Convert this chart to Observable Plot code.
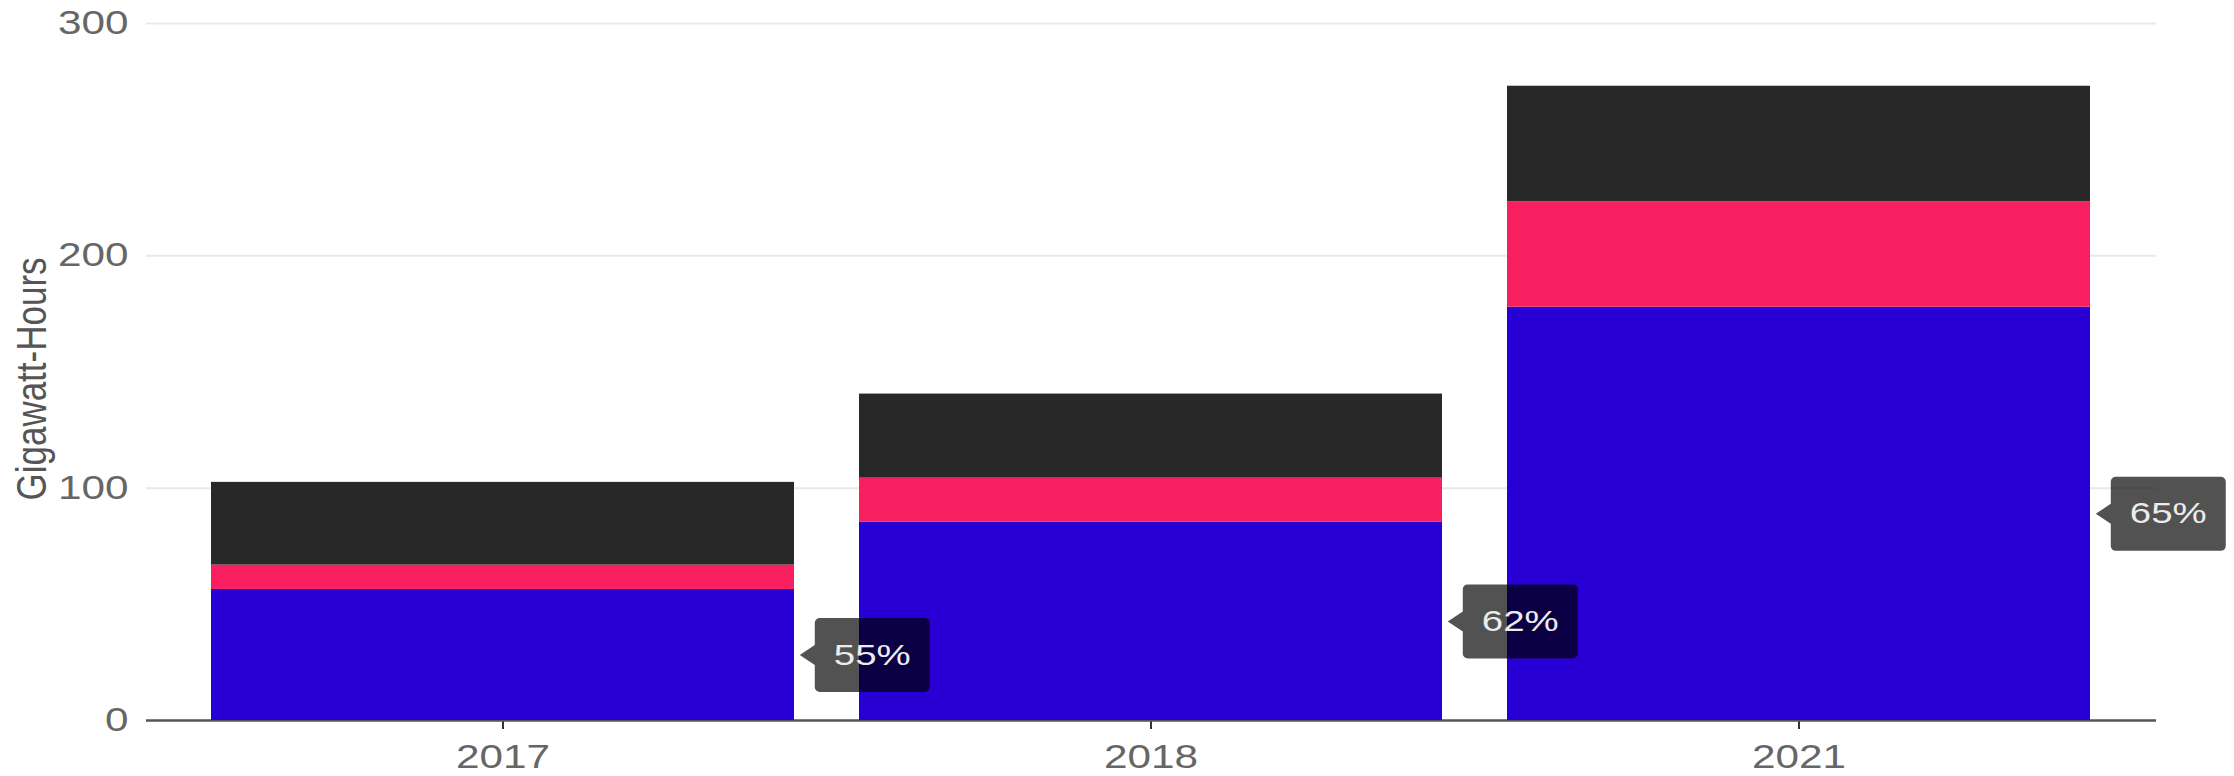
<!DOCTYPE html>
<html>
<head>
<meta charset="utf-8">
<script src="https://cdn.jsdelivr.net/npm/d3@7"></script>
<script src="https://cdn.jsdelivr.net/npm/@observablehq/plot@0.6"></script>
<style>
  html, body { margin: 0; padding: 0; background: #fff; overflow: hidden; }
  svg { display: block; }
</style>
</head>
<body>
<div id="chart"></div>
<script>
// ---- data ----
const years = ["2017", "2018", "2021"];
const seriesNames = ["Blue", "Pink", "Dark"];
const blueValues = [56.4, 85.3, 177.9];
const pinkValues = [10.5, 19.0, 45.4];
const darkValues = [35.6, 36.2, 49.7];
const shareLabels = ["55%", "62%", "65%"];
const seriesColors = ["#2800d6", "#f81f60", "#282828"];
const gridValues = [100, 200, 300];
const yLabel = "Gigawatt-Hours";

// ---- tables ----
const seriesValues = [blueValues, pinkValues, darkValues];
const rows = years.flatMap((year, i) =>
  seriesNames.map((s, k) => ({ year, series: s, value: seriesValues[k][i] }))
);
const labelRows = years.map((year, i) => ({ year, mid: blueValues[i] / 2, label: shareLabels[i] }));

// ---- layout ----
const W = 2234, H = 776;
const ml = 146, mr = 78, mt = 23, mb = 56;
const pad = 0.1;
const bw = d3.scaleBand(years, [ml, W - mr]).padding(pad).bandwidth();

const boxW = 115, boxH = 74, gap = 20, tipGap = 5, rad = 5, tipHalf = 10;
const tipSymbol = {
  draw(ctx) {
    const x0 = gap, x1 = gap + boxW, y0 = -boxH / 2, y1 = boxH / 2;
    ctx.moveTo(tipGap, 0);
    ctx.lineTo(x0, -tipHalf);
    ctx.lineTo(x0, y0 + rad);
    ctx.arcTo(x0, y0, x0 + rad, y0, rad);
    ctx.lineTo(x1 - rad, y0);
    ctx.arcTo(x1, y0, x1, y0 + rad, rad);
    ctx.lineTo(x1, y1 - rad);
    ctx.arcTo(x1, y1, x1 - rad, y1, rad);
    ctx.lineTo(x0 + rad, y1);
    ctx.arcTo(x0, y1, x0, y1 - rad, rad);
    ctx.lineTo(x0, tipHalf);
    ctx.closePath();
  }
};

const chart = Plot.plot({
  width: W,
  height: H,
  marginLeft: ml,
  marginRight: mr,
  marginTop: mt,
  marginBottom: mb,
  style: {
    background: "#fff",
    color: "#666",
    fontFamily: "'Liberation Sans', Arial, sans-serif",
    fontSize: "33px"
  },
  x: { domain: years, padding: pad, label: null, tickSize: 9, tickPadding: 15 },
  y: { domain: [0, 300], ticks: 3, tickSize: 0, tickPadding: 18, label: null },
  color: { domain: seriesNames, range: seriesColors },
  marks: [
    Plot.ruleY(gridValues, { stroke: "#e9e9e9", strokeWidth: 2 }),
    Plot.ruleY([0], { stroke: "#555", strokeWidth: 2.5 }),
    Plot.barY(rows, { x: "year", y: "value", fill: "series" }),
    Plot.dot(labelRows, { x: "year", y: "mid", symbol: tipSymbol, r: 10, fill: "#000", fillOpacity: 0.68, stroke: "none", dx: bw / 2 }),
    Plot.text(labelRows, { x: "year", y: "mid", text: "label", dx: bw / 2 + gap + boxW / 2, fill: "#ececec", fontSize: 30 }),
    Plot.text([yLabel], { frameAnchor: "left", dx: -115, rotate: -90, fontSize: 35, fill: "#555" })
  ]
});

document.getElementById("chart").appendChild(chart);

// widen the glyphs horizontally, as in the reference
const svgBox = chart.getBoundingClientRect();
chart.querySelectorAll("text").forEach(t => {
  const tr = t.getAttribute("transform") || "";
  if (tr.includes("rotate")) {
    t.setAttribute("transform", tr + " scale(1,1.2)");
    // centre the rotated title beside the axis
    const b = t.getBoundingClientRect();
    const cx = b.left + b.width / 2 - svgBox.left;
    const cy = b.top + b.height / 2 - svgBox.top;
    const wantX = 31, wantY = 379;
    t.setAttribute("transform", `translate(${(wantX - cx).toFixed(1)},${(wantY - cy).toFixed(1)}) ` + t.getAttribute("transform"));
    return;
  }
  const len = t.getComputedTextLength();
  if (len > 0) {
    t.setAttribute("textLength", (len * 1.28).toFixed(1));
    t.setAttribute("lengthAdjust", "spacingAndGlyphs");
  }
});
chart.querySelectorAll('g[aria-label="x-axis tick"]').forEach(g => {
  g.setAttribute("stroke", "#333");
  g.setAttribute("stroke-width", "2");
});
</script>
</body>
</html>
